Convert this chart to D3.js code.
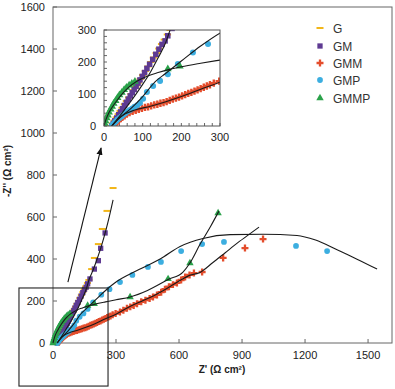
<!DOCTYPE html>
<html><head><meta charset="utf-8">
<script src="https://cdn.jsdelivr.net/npm/d3@7"></script>
<style>body{margin:0;background:#fff}svg{display:block}text{font-family:"Liberation Sans",Arial,sans-serif}</style>
</head><body><div id="c"></div>
<script>
// ---- data: [Z', -Z''] ----
const seriesNames = ["G","GM","GMM","GMP","GMMP"];
const G_pts = [[18,0],[22,8],[27,17],[32,27],[37,37],[42,47],[47,57],[53,68],[58,78],[64,89],[70,100],[76,112],[82,123],[88,135],[94,147],[100,159],[107,172],[114,186],[121,200],[128,214],[135,228],[142,242],[149,256],[156,270],[164,286],[171,300],[184,352],[197,405],[216,471],[235,543],[257,629],[286,738]];
const GM_pts = [[20,0],[24,8],[28,16],[33,25],[38,35],[43,44],[48,54],[53,64],[58,74],[63,84],[68,94],[73,104],[78,114],[83,124],[88,134],[93,144],[99,155],[105,167],[111,180],[118,193],[126,208],[134,224],[142,240],[150,255],[158,266],[165,282],[176,305],[197,352],[216,392],[227,451],[248,524]];
const GMM_pts = [[28,5],[32,10],[37,16],[42,22],[47,27],[53,32],[59,37],[66,42],[74,46],[82,49],[90,52],[98,55],[106,58],[114,60],[122,63],[130,66],[138,68],[146,71],[154,73],[162,76],[170,80],[178,84],[186,87],[194,90],[202,94],[210,98],[218,102],[226,105],[234,109],[242,113],[250,117],[258,121],[266,125],[274,129],[284,134],[298,140],[319,148],[335,156],[352,165],[368,172],[384,179],[400,187],[420,196],[440,204],[460,212],[476,219],[495,229],[515,242],[533,256],[552,268],[571,278],[590,286],[610,300],[629,314],[650,324],[671,333],[710,338],[810,405],[914,452],[1000,495]];
const GMP_pts = [[20,0],[23,5],[27,10],[31,15],[35,20],[40,25],[45,30],[50,35],[55,40],[61,45],[67,50],[73,55],[79,60],[86,65],[93,72],[101,85],[111,106],[127,125],[145,141],[165,162],[191,194],[230,230],[269,256],[319,290],[378,324],[452,362],[514,386],[610,438],[710,471],[814,481],[1157,462],[1305,438]];
const GMMP_pts = [[0,0],[2,8],[4,16],[7,25],[10,34],[13,43],[17,52],[21,61],[25,70],[30,79],[35,88],[40,97],[46,105],[52,113],[58,120],[65,127],[72,133],[80,139],[165,178],[196,187],[367,219],[548,305],[652,381],[786,619]];
// fitted curves
const GM_fit = [[20,0],[40,30],[60,62],[80,95],[100,130],[120,168],[140,213],[160,262],[171,300],[190,345],[210,400],[230,460],[250,530],[270,610],[286,681]];
const GMM_fit = [[20,0],[35,20],[55,38],[80,50],[120,62],[160,76],[200,92],[250,115],[300,137],[360,170],[420,198],[480,225],[540,258],[600,295],[650,322],[700,336],[760,382],[820,430],[880,478],[940,522],[981,552]];
const GMP_fit = [[20,0],[40,25],[70,55],[100,92],[132,138],[160,165],[200,203],[250,250],[305,294],[360,325],[420,355],[510,400],[605,460],[714,498],[843,516],[1000,518],[1162,512],[1250,490],[1350,445],[1450,398],[1543,352]];
const GMMP_fit = [[0,0],[5,20],[12,40],[22,60],[35,82],[50,104],[65,122],[85,140],[110,155],[140,167],[170,177],[200,185],[250,196],[300,206],[367,219],[450,250],[548,302],[619,338],[652,381],[700,470],[750,555],[790,628]];
const xTicks = [0,300,600,900,1200,1500];
const yTicks = [0,200,400,600,800,1000,1200,1400,1600];
const insetTicks = [0,100,200,300];
const insetMinor = d3.range(0,301,20);
const zoomBox = [[-162,-205],[262,262]];
const arrowPts = [[71,290],[229,929]];

const W=395,H=389;
const svg=d3.select("#c").append("svg").attr("width",W).attr("height",H);
const x=d3.scaleLinear().domain([0,1614]).range([53,392]);
const y=d3.scaleLinear().domain([0,1600]).range([343,7]);
const xi=d3.scaleLinear().domain([0,300]).range([104,220]);
const yi=d3.scaleLinear().domain([0,300]).range([126,30]);

const colors={G:"#f2b619",GM:"#5e3a92",GMM:"#e44d2c",GMP:"#3caee0",GMMP:"#2aa24a"};
const pts={G:G_pts,GM:GM_pts,GMM:GMM_pts,GMP:GMP_pts,GMMP:GMMP_pts};
const fits=[GM_fit,GMM_fit,GMP_fit,GMMP_fit];

function marker(g,name,sx,sy,data,scale){
  const c=colors[name];
  const sel=g.selectAll(null).data(data).enter();
  if(name==="G"){
    sel.append("rect").attr("x",d=>sx(d[0])-3.5*scale).attr("y",d=>sy(d[1])-1).attr("width",7*scale).attr("height",2).attr("fill",c);
  } else {
    const type={GM:d3.symbolSquare,GMM:d3.symbolCross,GMP:d3.symbolCircle,GMMP:d3.symbolTriangle}[name];
    const size={GM:28,GMM:27,GMP:26,GMMP:24}[name]*scale*scale;
    sel.append("path").attr("d",d3.symbol().type(type).size(size)).attr("transform",d=>`translate(${sx(d[0])},${sy(d[1])})`).attr("fill",c);
  }
}

// main frame
svg.append("rect").attr("x",53).attr("y",7).attr("width",339).attr("height",336).attr("fill","none").attr("stroke","#666").attr("stroke-width",1);
const gx=svg.append("g");
xTicks.forEach(t=>{
  gx.append("line").attr("x1",x(t)).attr("x2",x(t)).attr("y1",343).attr("y2",339).attr("stroke","#666");
  gx.append("text").attr("x",x(t)).attr("y",359).attr("text-anchor","middle").attr("font-size",11).attr("fill","#222").text(t);
});
yTicks.forEach(t=>{
  gx.append("line").attr("x1",53).attr("x2",57).attr("y1",y(t)).attr("y2",y(t)).attr("stroke","#666");
  gx.append("text").attr("x",45).attr("y",y(t)+4).attr("text-anchor","end").attr("font-size",11).attr("fill","#222").text(t);
});
svg.append("text").attr("x",222).attr("y",373).attr("text-anchor","middle").attr("font-size",10).attr("font-weight","bold").attr("fill","#222").text("Z' (Ω cm²)");
svg.append("text").attr("transform","translate(11,171) rotate(-90)").attr("text-anchor","middle").attr("font-size",10).attr("font-weight","bold").attr("fill","#222").text("-Z'' (Ω cm²)");

const line=(sx,sy)=>d3.line().x(d=>sx(d[0])).y(d=>sy(d[1])).curve(d3.curveMonotoneX);
// main series
seriesNames.forEach(n=>marker(svg.append("g"),n,x,y,pts[n],1));
fits.forEach(f=>svg.append("path").attr("d",line(x,y)(f)).attr("fill","none").attr("stroke","#1a1a1a").attr("stroke-width",1.1));

// zoom box
svg.append("rect").attr("x",x(zoomBox[0][0])).attr("y",y(zoomBox[1][1])).attr("width",x(zoomBox[1][0])-x(zoomBox[0][0])).attr("height",y(zoomBox[0][1])-y(zoomBox[1][1])).attr("fill","none").attr("stroke","#222").attr("stroke-width",1.1);
// arrow
svg.append("defs").append("marker").attr("id","ah").attr("viewBox","0 0 10 10").attr("refX",9).attr("refY",5).attr("markerWidth",7).attr("markerHeight",7).attr("orient","auto").append("path").attr("d","M0,1L10,5L0,9Z").attr("fill","#111");
svg.append("line").attr("x1",x(arrowPts[0][0])).attr("y1",y(arrowPts[0][1])).attr("x2",x(arrowPts[1][0])).attr("y2",y(arrowPts[1][1])).attr("stroke","#111").attr("stroke-width",1.1).attr("marker-end","url(#ah)");

// inset
const ig=svg.append("g");
ig.append("rect").attr("x",104).attr("y",30).attr("width",116).attr("height",96).attr("fill","#fff");
svg.select("defs").append("clipPath").attr("id","ic").append("rect").attr("x",104).attr("y",30).attr("width",116).attr("height",96);
insetMinor.forEach(t=>{
  ig.append("line").attr("x1",xi(t)).attr("x2",xi(t)).attr("y1",126).attr("y2",123).attr("stroke","#666");
  ig.append("line").attr("x1",104).attr("x2",107).attr("y1",yi(t)).attr("y2",yi(t)).attr("stroke","#666");
});
insetTicks.forEach(t=>{
  ig.append("text").attr("x",xi(t)).attr("y",141).attr("text-anchor","middle").attr("font-size",11).attr("fill","#222").text(t);
  ig.append("text").attr("x",96).attr("y",yi(t)+4).attr("text-anchor","end").attr("font-size",11).attr("fill","#222").text(t);
});
const ic=ig.append("g").attr("clip-path","url(#ic)");
seriesNames.forEach(n=>marker(ic.append("g"),n,xi,yi,pts[n].filter(d=>d[0]<=305&&d[1]<=305),1.05));
fits.forEach(f=>ic.append("path").attr("d",line(xi,yi)(f)).attr("fill","none").attr("stroke","#1a1a1a").attr("stroke-width",1.1));
ig.append("rect").attr("x",104).attr("y",30).attr("width",116).attr("height",96).attr("fill","none").attr("stroke","#555").attr("stroke-width",1);

// legend
const legY=[28,46,63,80,98];
seriesNames.forEach((n,i)=>{
  const g=svg.append("g");
  marker(g,n,d3.scaleIdentity(),d3.scaleIdentity(),[[320,legY[i]]],1);
  g.append("text").attr("x",333).attr("y",legY[i]+4.5).attr("font-size",12).attr("fill","#333").text(n);
});
</script></body></html>
